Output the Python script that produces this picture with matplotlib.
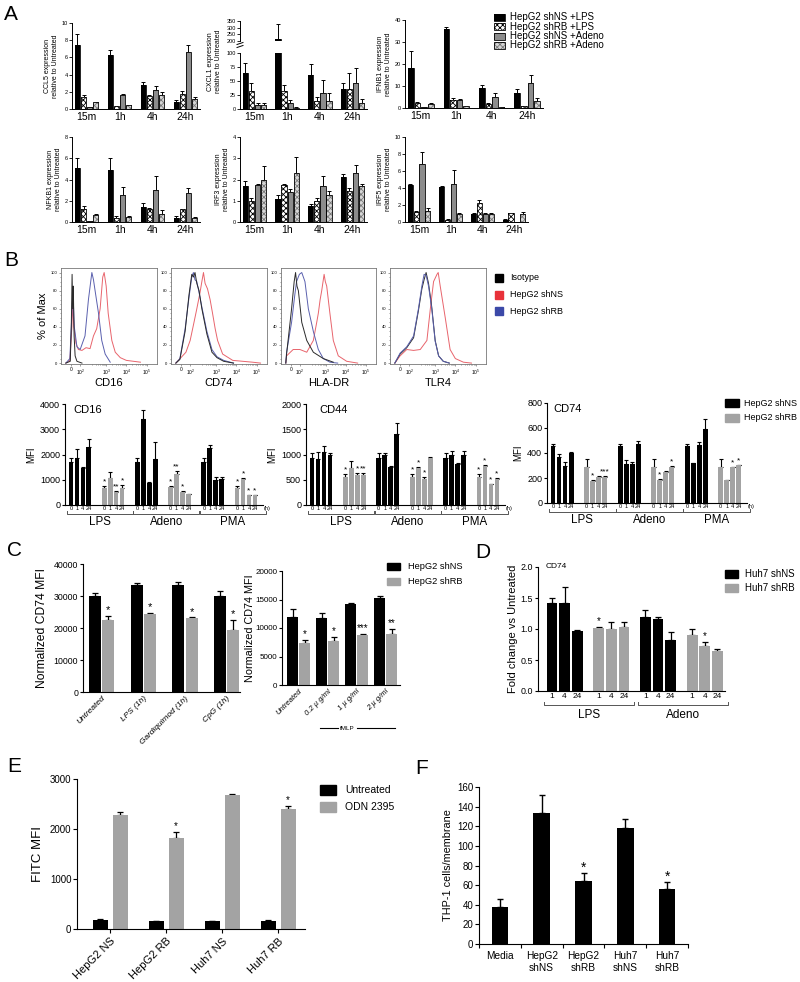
import numpy as np
import matplotlib
matplotlib.use('Agg')
import matplotlib.pyplot as plt
from matplotlib.patches import Rectangle
from matplotlib.lines import Line2D
from matplotlib.transforms import blended_transform_factory as blend

plt.rcParams['font.family'] = ['Liberation Sans', 'DejaVu Sans']
plt.rcParams['hatch.linewidth'] = 0.6
plt.rcParams['mathtext.default'] = 'regular'
plt.rcParams['axes.linewidth'] = 0.8

# ---------------- Panel A data (rows = time point, cols = series) ----------------
a_times = ['15m', '1h', '4h', '24h']
a_series = ['HepG2 shNS +LPS', 'HepG2 shRB +LPS', 'HepG2 shNS +Adeno', 'HepG2 shRB +Adeno']
ccl5_mean = [[7.5, 1.4, 0.2, 0.8], [6.3, 0.3, 1.6, 0.45], [2.8, 1.5, 2.2, 1.6], [0.8, 1.8, 6.6, 1.2]]
ccl5_err = [[1.2, 0.2, 0.0, 0.05], [0.6, 0.1, 0.1, 0.05], [0.3, 0.1, 0.5, 0.4], [0.3, 0.3, 0.9, 0.2]]
cxcl1_mean = [[65, 32, 8, 8], [215, 33, 10, 2], [60, 15, 28, 15], [35, 36, 47, 11]]
cxcl1_err = [[17, 15, 2, 3], [115, 9, 6, 1], [21, 7, 24, 13], [12, 29, 26, 6]]
ifnb1_mean = [[18, 2.5, 0.3, 2.0], [36, 3.5, 3.5, 1.0], [9, 2.0, 5.0, 0.3], [7, 0.8, 11.5, 3.2]]
ifnb1_err = [[8, 0.3, 0.0, 0.5], [1, 1.0, 0.5, 0.1], [1.5, 0.2, 2.0, 0.0], [1.5, 0.2, 3.5, 1.2]]
nfkb1_mean = [[5.1, 1.2, 0.1, 0.7], [4.9, 0.4, 2.5, 0.5], [1.4, 1.2, 3.0, 0.8], [0.35, 1.2, 2.7, 0.4]]
nfkb1_err = [[0.9, 0.3, 0.0, 0.1], [1.1, 0.2, 0.8, 0.1], [0.4, 0.15, 1.3, 0.3], [0.2, 0.05, 0.5, 0.05]]
irf3_mean = [[1.7, 1.0, 1.75, 2.0], [1.1, 1.75, 1.4, 2.3], [0.75, 1.0, 1.7, 1.25], [2.1, 1.45, 2.3, 1.7]]
irf3_err = [[0.25, 0.15, 0.05, 0.65], [0.15, 0.05, 0.15, 0.75], [0.1, 0.15, 0.45, 0.2], [0.15, 0.15, 0.4, 0.1]]
irf5_mean = [[4.3, 1.2, 6.8, 1.3], [4.1, 0.25, 4.5, 0.9], [1.0, 2.2, 0.95, 0.95], [0.25, 1.05, 0.05, 1.0]]
irf5_err = [[0.2, 0.15, 1.4, 0.3], [0.1, 0.05, 1.6, 0.2], [0.05, 0.4, 0.1, 0.1], [0.05, 0.05, 0.0, 0.15]]

# ---------------- Panel B histograms (x in display decades, y = % of max) ----------------
hist_names = ['CD16', 'CD74', 'HLA-DR', 'TLR4']
hist_legend = ['Isotype', 'HepG2 shNS', 'HepG2 shRB']
cd16_iso_x = [1.0, 1.22, 1.27, 1.31, 1.34, 1.37, 1.41, 1.46, 1.55, 1.8]
cd16_iso_y = [0, 2, 40, 98, 60, 85, 30, 8, 2, 0]
cd16_ns_x = [1.0, 1.2, 1.3, 1.34, 1.4, 1.5, 1.62, 1.8, 2.0, 2.2, 2.37, 2.53, 2.7, 2.83, 2.9, 3.0, 3.1, 3.28, 3.45, 3.7, 4.0, 4.7]
cd16_ns_y = [0, 3, 40, 65, 40, 22, 15, 14, 17, 16, 30, 38, 60, 95, 100, 85, 55, 25, 12, 6, 3, 1]
cd16_rb_x = [1.0, 1.2, 1.3, 1.35, 1.42, 1.55, 1.71, 1.95, 2.12, 2.29, 2.37, 2.45, 2.62, 2.78, 2.95, 3.2]
cd16_rb_y = [0, 5, 55, 80, 40, 18, 15, 30, 70, 100, 92, 80, 55, 25, 10, 1]
cd74_iso_x = [1.0, 1.2, 1.46, 1.65, 1.79, 1.87, 1.95, 2.04, 2.15, 2.29, 2.54, 2.79, 3.04, 3.37, 3.86]
cd74_iso_y = [0, 4, 35, 75, 98, 95, 100, 88, 80, 60, 32, 12, 6, 2, 0]
cd74_ns_x = [1.0, 1.21, 1.5, 1.71, 1.9, 2.04, 2.2, 2.29, 2.37, 2.45, 2.57, 2.7, 2.82, 2.95, 3.07, 3.32, 3.82, 4.8, 5.2]
cd74_ns_y = [0, 5, 12, 25, 45, 60, 78, 90, 100, 88, 82, 70, 55, 38, 25, 10, 3, 1, 0]
cd74_rb_x = [1.0, 1.2, 1.46, 1.65, 1.79, 1.87, 1.95, 2.04, 2.15, 2.29, 2.54, 2.79, 3.04, 3.37, 3.86]
cd74_rb_y = [0, 5, 38, 72, 95, 100, 92, 90, 78, 62, 35, 15, 7, 3, 0]
hla_iso_x = [1.0, 1.04, 1.29, 1.42, 1.49, 1.56, 1.63, 1.8, 2.05, 2.38, 2.88, 3.38]
hla_iso_y = [0, 10, 60, 90, 100, 85, 80, 45, 25, 12, 5, 1]
hla_ns_x = [1.0, 1.04, 1.37, 1.71, 2.05, 2.38, 2.55, 2.63, 2.72, 2.8, 2.92, 2.98, 3.05, 3.21, 3.38, 3.63, 4.05, 4.6]
hla_ns_y = [0, 8, 15, 15, 12, 25, 45, 55, 70, 80, 98, 90, 85, 55, 25, 8, 2, 0]
hla_rb_x = [1.0, 1.04, 1.29, 1.45, 1.54, 1.68, 1.80, 1.96, 2.13, 2.38, 2.63, 2.88, 3.21, 3.6]
hla_rb_y = [0, 12, 45, 75, 90, 98, 100, 90, 60, 35, 15, 5, 1, 0]
tlr4_iso_x = [1.0, 1.26, 1.59, 1.93, 2.17, 2.34, 2.45, 2.55, 2.67, 2.83, 3.0, 3.17, 3.4, 3.7]
tlr4_iso_y = [0, 10, 17, 28, 58, 82, 92, 100, 88, 62, 25, 8, 2, 0]
tlr4_ns_x = [1.0, 1.26, 1.59, 1.93, 2.26, 2.59, 2.76, 2.92, 3.09, 3.15, 3.25, 3.5, 3.74, 4.0, 4.4, 4.8]
tlr4_ns_y = [0, 8, 15, 14, 15, 25, 60, 90, 98, 100, 85, 50, 15, 5, 1, 0]
tlr4_rb_x = [1.0, 1.26, 1.59, 1.93, 2.17, 2.34, 2.45, 2.55, 2.67, 2.83, 3.0, 3.17, 3.4, 3.7]
tlr4_rb_y = [0, 11, 18, 30, 60, 85, 98, 97, 85, 60, 24, 8, 2, 0]
hist_tick_pos = [1.28, 1.71, 3, 4, 5]
hist_tick_lab = ['0', '$10^2$', '$10^3$', '$10^4$', '$10^5$']

# ---------------- Panel B bar charts (LPS, Adeno, PMA x 0,1,4,24 h) ----------------
b_stims = ['LPS', 'Adeno', 'PMA']
b_hours = ['0', '1', '4', '24']
cd16_ns_mean = [1700, 1870, 1470, 2300, 1700, 3420, 860, 1830, 1700, 2270, 980, 1010]
cd16_ns_err = [180, 350, 40, 320, 170, 330, 60, 650, 170, 110, 120, 90]
cd16_rb_mean = [680, 1080, 500, 680, 700, 1230, 500, 420, 680, 1040, 380, 380]
cd16_rb_err = [70, 240, 60, 120, 50, 110, 40, 20, 70, 20, 20, 20]
cd16_stars = ['*', '', '**', '*', '*', '**', '*', '', '*', '*', '*', '*']
cd44_ns_mean = [930, 910, 1050, 990, 930, 1000, 760, 1400, 940, 990, 810, 1000]
cd44_ns_err = [90, 130, 120, 40, 100, 30, 10, 220, 90, 70, 20, 60]
cd44_rb_mean = [550, 740, 600, 600, 550, 740, 510, 930, 550, 780, 410, 520]
cd44_rb_err = [70, 140, 40, 30, 70, 20, 40, 20, 70, 20, 10, 10]
cd44_stars = ['*', '', '*', '**', '*', '*', '*', '', '*', '*', '*', '*']
cd74_ns_mean = [455, 365, 295, 400, 455, 315, 310, 470, 455, 320, 465, 590]
cd74_ns_err = [20, 30, 30, 10, 20, 25, 20, 25, 20, 2, 20, 85]
cd74_rb_mean = [290, 180, 210, 212, 290, 185, 250, 285, 290, 185, 285, 300]
cd74_rb_err = [60, 5, 3, 6, 60, 5, 3, 10, 60, 3, 5, 5]
cd74_stars = ['', '*', '', '***', '', '*', '', '*', '', '', '*', '*']

# ---------------- Panel C ----------------
c1_labels = ['Untreated', 'LPS (1h)', 'Gardiquimod (1h)', 'CpG (1h)']
c1_ns_mean = [30000, 33500, 33300, 30000]
c1_ns_err = [1000, 500, 1000, 1500]
c1_rb_mean = [22500, 24500, 23000, 19500]
c1_rb_err = [1300, 200, 300, 3000]
c1_stars = ['*', '*', '*', '*']
c2_labels = ['Untreated', '0.2 µ g/ml', '1 µ g/ml', '2 µ g/ml']
c2_ns_mean = [11900, 11800, 14200, 15200]
c2_ns_err = [1500, 800, 200, 400]
c2_rb_mean = [7400, 7800, 8700, 8900]
c2_rb_err = [500, 600, 300, 900]
c2_stars = ['*', '*', '***', '**']

# ---------------- Panel D ----------------
d_hours = ['1', '4', '24']
d_ns_lps = [1.42, 1.42, 0.96]
d_ns_lps_err = [0.08, 0.26, 0.02]
d_rb_lps = [1.02, 1.0, 1.04]
d_rb_lps_err = [0.02, 0.11, 0.08]
d_ns_ade = [1.2, 1.16, 0.83]
d_ns_ade_err = [0.1, 0.03, 0.12]
d_rb_ade = [0.9, 0.73, 0.64]
d_rb_ade_err = [0.1, 0.06, 0.03]

# ---------------- Panel E ----------------
e_labels = ['HepG2 NS', 'HepG2 RB', 'Huh7 NS', 'Huh7 RB']
e_untr = [190, 160, 160, 170]
e_untr_err = [5, 5, 5, 5]
e_odn = [2290, 1820, 2680, 2400]
e_odn_err = [60, 130, 20, 60]
e_stars = ['', '*', '', '*']

# ---------------- Panel F ----------------
f_labels = ['Media', 'HepG2\nshNS', 'HepG2\nshRB', 'Huh7\nshNS', 'Huh7\nshRB']
f_mean = [38, 134, 64, 118, 56]
f_err = [8, 18, 8, 9, 7]
f_stars = ['', '', '*', '', '*']

# ---------------- Figure helpers ----------------
W, H = 800, 982
fig = plt.figure(figsize=(W / 100, H / 100), dpi=100)
GRAY = '#a3a3a3'


def fig_ax(x0, y0, x1, y1):
    return fig.add_axes([x0 / W, 1 - y1 / H, (x1 - x0) / W, (y1 - y0) / H])


def ftext(x, y, s, **kw):
    fig.text(x / W, 1 - y / H, s, **kw)


def fbox(x0, y0, x1, y1, **kw):
    fig.add_artist(Rectangle((x0 / W, 1 - y1 / H), (x1 - x0) / W, (y1 - y0) / H,
                             transform=fig.transFigure, **kw))


def fline(xs, ys, **kw):
    fig.add_artist(Line2D([x / W for x in xs], [1 - y / H for y in ys],
                          transform=fig.transFigure, **kw))


def clean(ax):
    ax.spines['top'].set_visible(False)
    ax.spines['right'].set_visible(False)


def up_err(ax, x, y, e, cap=1.5, lw=0.8):
    x = np.asarray(x, float)
    ax.errorbar(x, y, yerr=[np.zeros(len(x)), e], fmt='none', ecolor='black',
                elinewidth=lw, capsize=cap, capthick=lw, zorder=1)


def stars(ax, x, top, labels, size=6, off=1.0):
    for xi, t, s in zip(x, top, labels):
        if s:
            ax.annotate(s, (xi, t), xytext=(0, off), textcoords='offset points',
                        ha='center', va='bottom', fontsize=size)


# ---------------- Panel A ----------------
a_face = ['black', 'white', '#8c8c8c', '#d6d6d6']
a_hatch = [None, 'xxxxxx', None, 'xxxxxx']
a_hcol = ['black', 'black', 'black', '#7a7a7a']
A_STEP = 5.4


def bars_a(ax, mean, err):
    mean = np.asarray(mean, float)
    err = np.asarray(err, float)
    for b in range(4):
        xs = np.arange(4) * A_STEP + b
        ax.bar(xs, mean[:, b], 0.88, color=a_face[b], hatch=a_hatch[b],
               edgecolor=a_hcol[b], linewidth=0, zorder=2)
        ax.bar(xs, mean[:, b], 0.88, facecolor='none', edgecolor='black', linewidth=0.6, zorder=3)
        up_err(ax, xs, mean[:, b], err[:, b], cap=1.2, lw=0.7)
    ax.set_xlim(-0.9, 3 * A_STEP + 3.9)


def style_a(ax, ylim, yticks, ylabel):
    clean(ax)
    ax.set_ylim(ylim)
    ax.set_yticks(yticks)
    ax.set_xticks(np.arange(4) * A_STEP + 1.5)
    ax.set_xticklabels(a_times, fontsize=7.5)
    ax.tick_params(axis='x', length=0, pad=2.5)
    ax.tick_params(axis='y', labelsize=4, length=2, width=0.6, pad=1)
    ax.spines['left'].set_linewidth(0.7)
    ax.spines['bottom'].set_linewidth(0.7)
    if ylabel:
        ax.set_ylabel(ylabel, fontsize=5, labelpad=2)


ax = fig_ax(72, 23, 200, 109)
bars_a(ax, ccl5_mean, ccl5_err)
style_a(ax, (0, 10), range(0, 11, 2), 'CCL5 expression\nrelative to Untreated')

# CXCL1 with broken axis
ax_up = fig_ax(240, 21, 367, 41)
bars_a(ax_up, cxcl1_mean, cxcl1_err)
style_a(ax_up, (200, 350), [200, 250, 300, 350], None)
ax_up.spines['bottom'].set_visible(False)
ax_up.set_xticks([])
ax = fig_ax(240, 53, 367, 109)
bars_a(ax, cxcl1_mean, cxcl1_err)
style_a(ax, (0, 100), [0, 25, 50, 75, 100], None)
ax.set_ylabel('CXCL1 expression\nrelative to Untreated', fontsize=5, labelpad=2)
ax.yaxis.set_label_coords(-0.14, 0.85)
fline([237, 243], [44.5, 42.5], color='black', lw=0.7)
fline([237, 243], [47.5, 45.5], color='black', lw=0.7)

ax = fig_ax(405, 20, 543, 108)
bars_a(ax, ifnb1_mean, ifnb1_err)
style_a(ax, (0, 40), range(0, 41, 10), 'IFNB1 expression\nrelative to Untreated')

ax = fig_ax(72, 137, 200, 222)
bars_a(ax, nfkb1_mean, nfkb1_err)
style_a(ax, (0, 8), range(0, 9, 2), 'NFKB1 expression\nrelative to Untreated')

ax = fig_ax(240, 137, 367, 222)
bars_a(ax, irf3_mean, irf3_err)
style_a(ax, (0, 4), range(0, 5), 'IRF3 expression\nrelative to Untreated')

ax = fig_ax(405, 137, 528, 222)
bars_a(ax, irf5_mean, irf5_err)
style_a(ax, (0, 10), range(0, 11, 2), 'IRF5 expression\nrelative to Untreated')

for i, name in enumerate(a_series):
    yc = 17 + i * 9.5
    fbox(494, yc - 3.5, 505, yc + 3.5, facecolor=a_face[i], hatch=a_hatch[i],
         edgecolor=a_hcol[i], linewidth=0)
    fbox(494, yc - 3.5, 505, yc + 3.5, facecolor='none', edgecolor='black', linewidth=0.6)
    ftext(510, yc, name, fontsize=7, va='center')

# ---------------- Panel B histograms ----------------
hist_colors = ['#e8646c', '#5a60ae', '#2a2a2a']
hist_curves = [
    [(cd16_ns_x, cd16_ns_y), (cd16_rb_x, cd16_rb_y), (cd16_iso_x, cd16_iso_y)],
    [(cd74_ns_x, cd74_ns_y), (cd74_rb_x, cd74_rb_y), (cd74_iso_x, cd74_iso_y)],
    [(hla_ns_x, hla_ns_y), (hla_rb_x, hla_rb_y), (hla_iso_x, hla_iso_y)],
    [(tlr4_ns_x, tlr4_ns_y), (tlr4_iso_x, tlr4_iso_y), (tlr4_rb_x, tlr4_rb_y)],
]
hist_order_cols = [hist_colors, hist_colors, hist_colors,
                   [hist_colors[0], hist_colors[2], hist_colors[1]]]
minor_x = [d + np.log10(k) for d in (2, 3, 4) for k in range(2, 10)]
for i, (x0, x1) in enumerate([(61, 157), (171, 267), (281, 376), (390, 486)]):
    ax = fig_ax(x0, 268, x1, 364)
    for (xs, ys), col in zip(hist_curves[i], hist_order_cols[i]):
        ax.plot(xs, ys, color=col, lw=0.7)
    ax.set_xlim(0.76, 5.52)
    ax.set_ylim(-1, 105)
    ax.set_xticks(hist_tick_pos)
    ax.set_xticklabels(hist_tick_lab, fontsize=3.5)
    ax.set_xticks(minor_x, minor=True)
    ax.set_yticks(range(0, 101, 20))
    ax.set_yticklabels([str(v) for v in range(0, 101, 20)], fontsize=3)
    ax.set_yticks(range(0, 101, 5), minor=True)
    ax.tick_params(which='both', length=1.5, width=0.4, pad=1, color='#555555')
    ax.tick_params(which='minor', length=1)
    for s in ax.spines.values():
        s.set_linewidth(0.6)
        s.set_color('#777777')
    ax.set_xlabel(hist_names[i], fontsize=8, labelpad=1)
    if i == 0:
        ax.set_ylabel('% of Max', fontsize=8, labelpad=2)

for i, (name, col) in enumerate(zip(hist_legend, ['black', '#e8323a', '#3b49a8'])):
    yc = 278 + i * 16.5
    fbox(495, yc - 4, 503, yc + 4, color=col)
    ftext(510, yc, name, fontsize=6.5, va='center')

# ---------------- Panel B bar charts ----------------
B_STEP = 5.57


def bars_b(ax, ns_m, ns_e, rb_m, rb_e, st, ylim, yticks, title, tx):
    clean(ax)
    xs_all, labs = [], []
    for k in range(3):
        xb = k * 2 * B_STEP + np.arange(4)
        xg = xb + B_STEP
        sl = slice(4 * k, 4 * k + 4)
        ax.bar(xb, ns_m[sl], 0.8, color='black', zorder=2)
        ax.bar(xg, rb_m[sl], 0.8, color=GRAY, zorder=2)
        up_err(ax, xb, ns_m[sl], ns_e[sl], cap=1.3, lw=0.8)
        up_err(ax, xg, rb_m[sl], rb_e[sl], cap=1.3, lw=0.8)
        tops = np.array(rb_m[sl]) + np.array(rb_e[sl])
        stars(ax, xg, tops, st[sl], size=6, off=0.5)
        xs_all += list(xb) + list(xg)
        labs += b_hours * 2
    ax.set_xlim(-1, 32.2)
    ax.set_ylim(ylim)
    ax.set_yticks(yticks)
    ax.set_xticks(xs_all)
    ax.set_xticklabels(labs, fontsize=4)
    ax.tick_params(axis='x', length=0, pad=1)
    ax.tick_params(axis='y', labelsize=6.5, length=2.5, width=0.8, pad=1)
    ax.set_ylabel('MFI', fontsize=7, labelpad=3)
    ax.text(32.9, -0.012, '(h)', transform=blend(ax.transData, ax.transAxes),
            fontsize=4, ha='center', va='top')
    ax.text(tx, 0.94, title, transform=ax.transAxes, fontsize=8, va='center')
    tr = blend(ax.transData, ax.transAxes)
    for k, lab in enumerate(b_stims):
        a0 = k * 2 * B_STEP - 0.7
        a1 = k * 2 * B_STEP + 10.4
        ax.add_line(Line2D([a0, a0, a1, a1], [-0.055, -0.085, -0.085, -0.055], transform=tr,
                           color='#555555', lw=0.7, clip_on=False))
        ax.text((a0 + a1) / 2, -0.17, lab, transform=tr, fontsize=8.3,
                ha='center', va='center')


ax = fig_ax(65, 404, 263, 505)
bars_b(ax, cd16_ns_mean, cd16_ns_err, cd16_rb_mean, cd16_rb_err, cd16_stars,
       (0, 4000), range(0, 4001, 1000), 'CD16', 0.04)
ax = fig_ax(306, 404, 505, 505)
bars_b(ax, cd44_ns_mean, cd44_ns_err, cd44_rb_mean, cd44_rb_err, cd44_stars,
       (0, 2000), range(0, 2001, 500), 'CD44', 0.065)
ax = fig_ax(547, 403, 747, 503)
bars_b(ax, cd74_ns_mean, cd74_ns_err, cd74_rb_mean, cd74_rb_err, cd74_stars,
       (0, 800), range(0, 801, 200), 'CD74', 0.03)
fbox(725, 399, 739, 407, color='black')
fbox(725, 414, 739, 422, color=GRAY)
ftext(744, 403, 'HepG2 shNS', fontsize=6.5, va='center')
ftext(744, 418, 'HepG2 shRB', fontsize=6.5, va='center')

# ---------------- Panel C ----------------


def pair_bars(ax, step, m1, e1, m2, e2, width, st, star_size):
    x1 = np.arange(len(m1)) * step
    x2 = x1 + 1
    ax.bar(x1, m1, width, color='black', zorder=2)
    ax.bar(x2, m2, width, color=GRAY, zorder=2)
    up_err(ax, x1, m1, e1, cap=2, lw=0.9)
    up_err(ax, x2, m2, e2, cap=2, lw=0.9)
    stars(ax, x2, np.array(m2) + np.array(e2), st, size=star_size, off=0.5)
    return x1 + 0.5


ax = fig_ax(83, 564, 240, 692)
clean(ax)
xc = pair_bars(ax, 3.15, c1_ns_mean, c1_ns_err, c1_rb_mean, c1_rb_err, 0.92, c1_stars, 8)
ax.set_xlim(-0.9, 10.95)
ax.set_ylim(0, 40000)
ax.set_yticks(range(0, 40001, 10000))
ax.set_xticks(xc)
ax.set_xticklabels(c1_labels, rotation=45, ha='right', va='top', rotation_mode='anchor',
                   fontsize=6, fontstyle='italic')
ax.tick_params(axis='x', length=0, pad=2)
ax.tick_params(axis='y', labelsize=6.3, length=2.5, pad=1)
ax.set_ylabel('Normalized CD74 MFI', fontsize=8.7, labelpad=4)

ax = fig_ax(282, 571, 400, 685)
clean(ax)
xc = pair_bars(ax, 2.4, c2_ns_mean, c2_ns_err, c2_rb_mean, c2_rb_err, 0.9, c2_stars, 7)
ax.set_xlim(-0.9, 8.9)
ax.set_ylim(0, 20000)
ax.set_yticks(range(0, 20001, 5000))
ax.set_xticks(xc)
ax.set_xticklabels(c2_labels, rotation=45, ha='right', va='top', rotation_mode='anchor',
                   fontsize=5.5, fontstyle='italic')
ax.tick_params(axis='x', length=0, pad=2)
ax.tick_params(axis='y', labelsize=5.8, length=2.2, pad=1)
ax.set_ylabel('Normalized CD74 MFI', fontsize=7.8, labelpad=0.5)
fline([320, 338], [728, 728], color='black', lw=0.8)
fline([357, 395], [728, 728], color='black', lw=0.8)
ftext(347.5, 728, 'fMLP', fontsize=4.5, ha='center', va='center')
fbox(387, 563, 400, 570, color='black')
fbox(387, 578, 400, 585, color=GRAY)
ftext(408, 566.5, 'HepG2 shNS', fontsize=6.7, va='center')
ftext(408, 581.5, 'HepG2 shRB', fontsize=6.7, va='center')

# ---------------- Panel D ----------------
ax = fig_ax(538, 567, 725, 691)
clean(ax)
D_STEP = 3.7
d_sets = [(d_ns_lps, d_ns_lps_err, 'black'), (d_rb_lps, d_rb_lps_err, GRAY),
          (d_ns_ade, d_ns_ade_err, 'black'), (d_rb_ade, d_rb_ade_err, GRAY)]
d_star = [['', '', ''], ['*', '', ''], ['', '', ''], ['', '*', '']]
dx_all = []
for k, (m, e, col) in enumerate(d_sets):
    xs = k * D_STEP + np.arange(3)
    ax.bar(xs, m, 0.85, color=col, zorder=2)
    up_err(ax, xs, m, e, cap=2, lw=0.9)
    stars(ax, xs, np.array(m) + np.array(e), d_star[k], size=7, off=0.5)
    dx_all += list(xs)
ax.set_xlim(-1.1, 13.7)
ax.set_ylim(0, 2)
ax.set_yticks([0, 0.5, 1.0, 1.5, 2.0])
ax.set_yticklabels(['0.0', '0.5', '1.0', '1.5', '2.0'])
ax.set_xticks(dx_all)
ax.set_xticklabels(d_hours * 4, fontsize=6)
ax.tick_params(axis='x', length=0, pad=1.5)
ax.tick_params(axis='y', labelsize=6.4, length=2.5, pad=1)
ax.set_ylabel('Fold change vs Untreated', fontsize=8, labelpad=2)
ax.text(0.04, 1.0, 'CD74', transform=ax.transAxes, fontsize=6, va='center')
tr = blend(ax.transData, ax.transAxes)
for k, lab in enumerate(['LPS', 'Adeno']):
    a0 = k * 2 * D_STEP - 0.6
    a1 = k * 2 * D_STEP + 6.5
    ax.add_line(Line2D([a0, a0, a1, a1], [-0.085, -0.113, -0.113, -0.085], transform=tr,
                       color='#555555', lw=0.7, clip_on=False))
    ax.text((a0 + a1) / 2, -0.19, lab, transform=tr, fontsize=8.5, ha='center', va='center')
fbox(725, 570, 738, 578, color='black')
fbox(725, 584, 738, 592, color=GRAY)
ftext(745, 574, 'Huh7 shNS', fontsize=7, va='center')
ftext(745, 588, 'Huh7 shRB', fontsize=7, va='center')

# ---------------- Panel E ----------------
ax = fig_ax(77, 779, 305, 929)
clean(ax)
xc = pair_bars(ax, 2.8, e_untr, e_untr_err, e_odn, e_odn_err, 0.75, e_stars, 7)
ax.set_xlim(-1.15, 10.25)
ax.set_ylim(0, 3000)
ax.set_yticks([0, 1000, 2000, 3000])
ax.set_xticks(xc)
ax.set_xticklabels(e_labels, rotation=45, ha='right', va='top', rotation_mode='anchor', fontsize=8)
ax.tick_params(axis='x', length=3, pad=2)
ax.tick_params(axis='y', labelsize=7, length=3, pad=1)
ax.set_ylabel('FITC MFI', fontsize=9.5, labelpad=4)
fbox(320, 785, 336, 795, color='black')
fbox(320, 802, 336, 812, color=GRAY)
ftext(345, 790, 'Untreated', fontsize=7.5, va='center')
ftext(345, 807, 'ODN 2395', fontsize=7.5, va='center')

# ---------------- Panel F ----------------
ax = fig_ax(479, 787, 688, 944)
clean(ax)
fx = np.arange(len(f_mean))
ax.bar(fx, f_mean, 0.4, color='black', zorder=2)
up_err(ax, fx, f_mean, f_err, cap=2.5, lw=1.0)
stars(ax, fx, np.array(f_mean) + np.array(f_err), f_stars, size=10, off=-1)
ax.set_xlim(-0.5, 4.5)
ax.set_ylim(0, 160)
ax.set_yticks(range(0, 161, 20))
ax.set_xticks(np.arange(-0.5, 4.6, 1.0))
ax.set_xticklabels([])
ax.set_xticks(fx, minor=True)
ax.set_xticklabels(f_labels, minor=True, fontsize=7.3, linespacing=1.2)
ax.tick_params(axis='x', which='major', length=3)
ax.tick_params(axis='x', which='minor', length=0, pad=5)
ax.tick_params(axis='y', labelsize=7, length=3, pad=1)
ax.set_ylabel('THP-1 cells/membrane', fontsize=7.8, labelpad=3)

# ---------------- Panel letters ----------------
for lab, x, y in [('A', 11, 14), ('B', 11, 260), ('C', 14, 551), ('D', 483, 553),
                  ('E', 14, 767), ('F', 422, 768)]:
    ftext(x, y, lab, fontsize=15, ha='center', va='center')

fig.savefig('out.png', dpi=100, facecolor='white')
